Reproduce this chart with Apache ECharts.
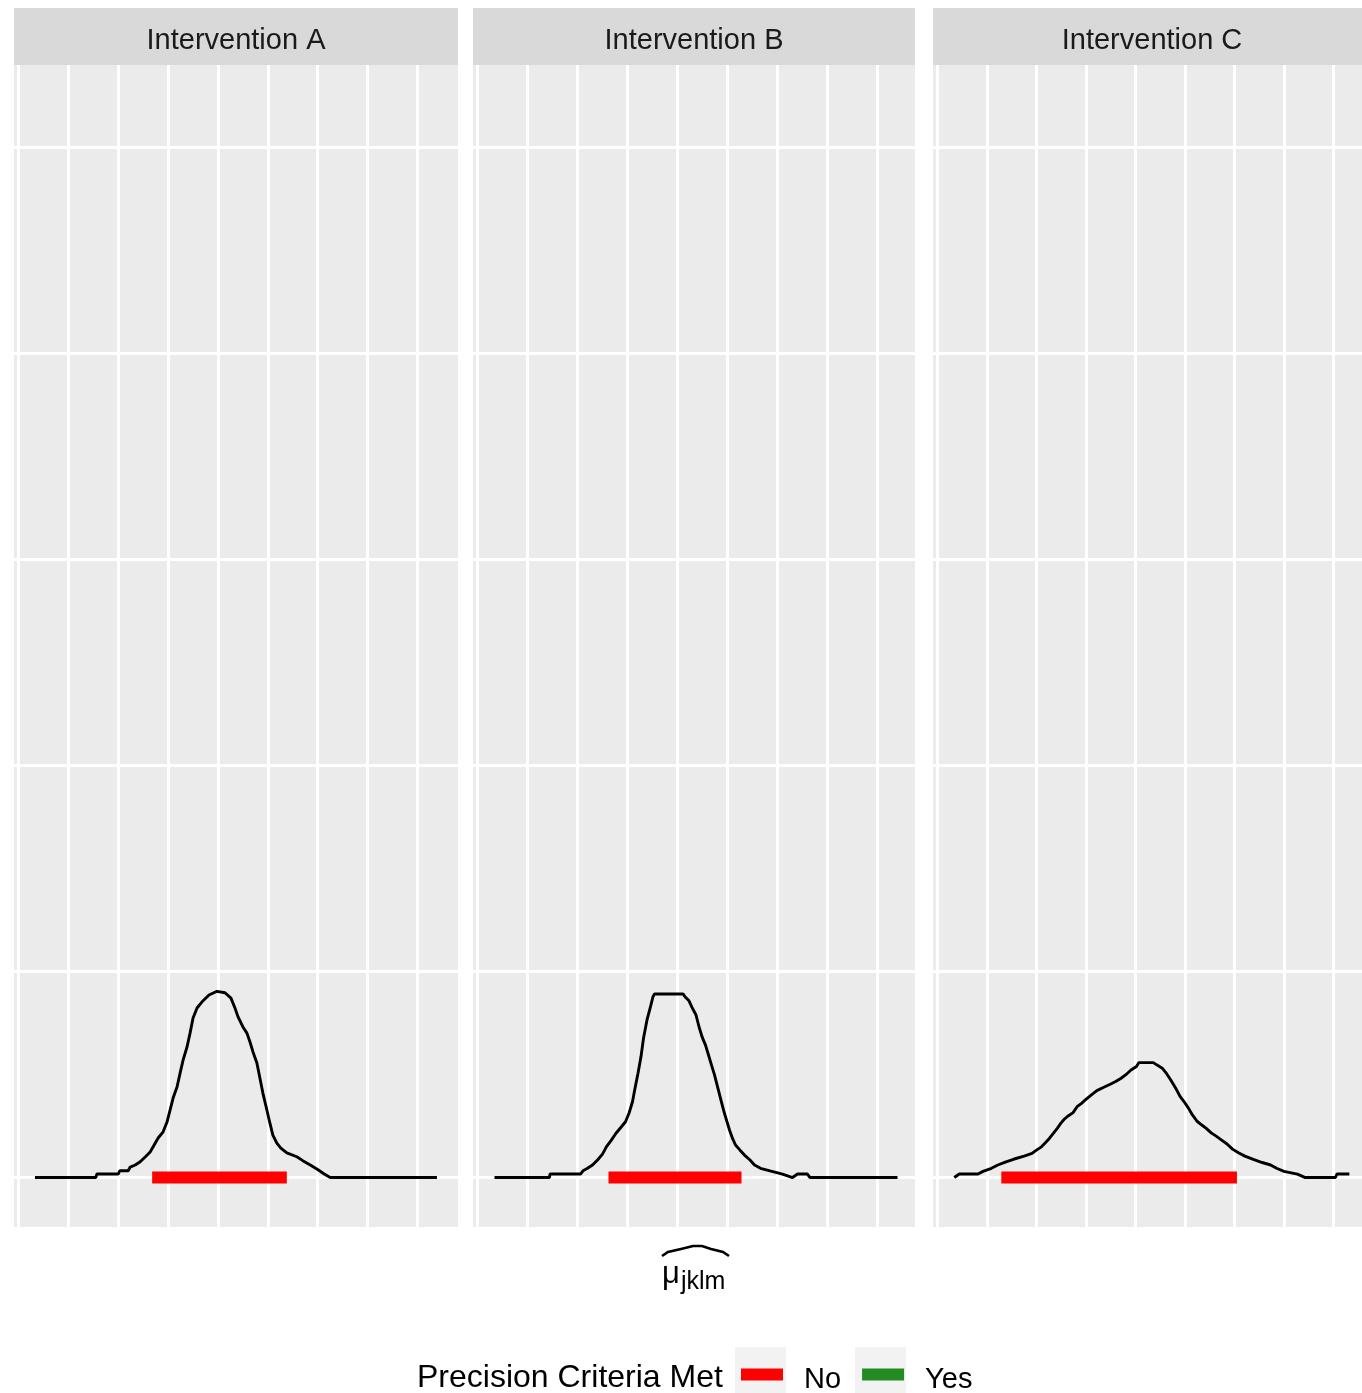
<!DOCTYPE html>
<html>
<head>
<meta charset="utf-8">
<script src="https://cdn.jsdelivr.net/npm/echarts@6/dist/echarts.min.js"></script>
<style>html,body{margin:0;padding:0;background:#fff;}#c{width:1362px;height:1393px;}</style>
</head>
<body>
<div id="c"></div>
<script>
const panels = ['Intervention A', 'Intervention B', 'Intervention C'];
const xGridValues = [-4, -3, -2, -1, 0, 1, 2, 3, 4];
const yGridValues = [0, 1, 2, 3, 4, 5];
const legendLabels = ['No', 'Yes'];
const legendTitle = 'Precision Criteria Met';

const densityA = [[-3.67,0],[-2.45,0],[-2.43,0.017],[-2.00,0.017],[-1.97,0.033],[-1.80,0.033],[-1.76,0.051],[-1.66,0.061],[-1.56,0.077],[-1.46,0.100],[-1.36,0.124],[-1.28,0.158],[-1.20,0.192],[-1.10,0.222],[-1.02,0.271],[-0.96,0.328],[-0.90,0.386],[-0.82,0.441],[-0.76,0.507],[-0.70,0.570],[-0.62,0.635],[-0.56,0.701],[-0.50,0.774],[-0.42,0.823],[-0.32,0.853],[-0.18,0.886],[-0.02,0.904],[0.14,0.897],[0.26,0.871],[0.34,0.823],[0.40,0.781],[0.50,0.731],[0.58,0.701],[0.64,0.659],[0.70,0.611],[0.78,0.556],[0.84,0.483],[0.90,0.410],[0.98,0.328],[1.04,0.265],[1.10,0.206],[1.18,0.167],[1.26,0.143],[1.38,0.120],[1.58,0.101],[1.70,0.082],[1.85,0.061],[1.99,0.040],[2.13,0.017],[2.25,0],[4.39,0]];
const densityB = [[-3.66,0],[-2.56,0],[-2.55,0.017],[-1.94,0.017],[-1.89,0.033],[-1.80,0.045],[-1.70,0.061],[-1.60,0.085],[-1.50,0.114],[-1.42,0.150],[-1.33,0.179],[-1.23,0.215],[-1.13,0.244],[-1.04,0.271],[-0.97,0.312],[-0.90,0.368],[-0.85,0.433],[-0.79,0.506],[-0.73,0.587],[-0.68,0.676],[-0.61,0.765],[-0.54,0.830],[-0.49,0.878],[-0.46,0.891],[0.11,0.891],[0.15,0.878],[0.23,0.858],[0.29,0.826],[0.37,0.789],[0.43,0.732],[0.49,0.684],[0.56,0.643],[0.62,0.595],[0.68,0.546],[0.74,0.498],[0.80,0.441],[0.86,0.384],[0.92,0.328],[0.98,0.279],[1.04,0.231],[1.10,0.190],[1.16,0.158],[1.25,0.133],[1.34,0.109],[1.45,0.085],[1.54,0.061],[1.66,0.045],[1.85,0.032],[2.10,0.017],[2.30,0],[2.40,0.017],[2.60,0.017],[2.65,0],[4.40,0]];
const densityC = [[-3.66,0],[-3.56,0.017],[-3.18,0.017],[-3.08,0.030],[-2.91,0.045],[-2.78,0.061],[-2.63,0.075],[-2.45,0.090],[-2.25,0.104],[-2.09,0.117],[-2.00,0.133],[-1.90,0.149],[-1.82,0.169],[-1.74,0.190],[-1.66,0.214],[-1.58,0.239],[-1.51,0.263],[-1.44,0.283],[-1.36,0.299],[-1.26,0.315],[-1.18,0.344],[-1.09,0.360],[-1.00,0.380],[-0.89,0.401],[-0.78,0.422],[-0.64,0.438],[-0.51,0.453],[-0.40,0.466],[-0.29,0.482],[-0.20,0.498],[-0.09,0.522],[0.02,0.539],[0.07,0.558],[0.36,0.558],[0.43,0.547],[0.54,0.531],[0.63,0.504],[0.71,0.475],[0.81,0.435],[0.90,0.394],[0.98,0.369],[1.07,0.337],[1.15,0.304],[1.25,0.272],[1.34,0.255],[1.43,0.239],[1.53,0.217],[1.63,0.201],[1.74,0.182],[1.85,0.163],[1.96,0.138],[2.08,0.120],[2.21,0.104],[2.38,0.088],[2.56,0.073],[2.73,0.061],[2.85,0.045],[3.00,0.030],[3.27,0.017],[3.43,0],[4.04,0],[4.07,0.017],[4.32,0.017]];
const intervalA = [-1.32, 1.38];
const intervalB = [-1.38, 1.28];
const intervalC = [-2.71, 2.05];

const densities = [densityA, densityB, densityC];
const intervals = [intervalA, intervalB, intervalC];

// layout (pixels)
const gridLayout = [
  { left: 14, width: 444, xmax: 4.812 },
  { left: 473, width: 442, xmax: 4.75 },
  { left: 933, width: 429, xmax: 4.576 }
];
const stripCenters = [236, 694, 1152];
const PANEL_TOP = 65, PANEL_BOTTOM = 166;

const grids = [], xAxes = [], yAxes = [], series = [], graphics = [];
gridLayout.forEach((g, i) => {
  grids.push({ left: g.left, width: g.width, top: PANEL_TOP, bottom: PANEL_BOTTOM,
    show: true, backgroundColor: '#EBEBEB', borderWidth: 0, containLabel: false });
  xAxes.push({ type: 'value', gridIndex: i, min: -4.09, max: g.xmax, show: false });
  yAxes.push({ type: 'value', gridIndex: i, min: -0.24, max: 5.40, show: false });
  series.push({
    name: 'grid' + i, type: 'line', xAxisIndex: i, yAxisIndex: i, data: [], silent: true, z: 1,
    markLine: {
      silent: true, symbol: 'none', z: 1, animation: false,
      label: { show: false },
      lineStyle: { color: '#FFFFFF', width: 3, type: 'solid' },
      emphasis: { disabled: true },
      data: xGridValues.map(v => ({ xAxis: v })).concat(yGridValues.map(v => ({ yAxis: v })))
    }
  });
  series.push({
    name: 'density' + i, type: 'line', xAxisIndex: i, yAxisIndex: i, data: densities[i],
    showSymbol: false, symbol: 'none', smooth: false, silent: true, z: 3,
    lineStyle: { color: '#000000', width: 2.9 }, animation: false
  });
  series.push({
    name: 'No', type: 'line', xAxisIndex: i, yAxisIndex: i,
    data: [[intervals[i][0], 0], [intervals[i][1], 0]],
    showSymbol: false, symbol: 'none', silent: true, z: 4, color: '#FF0000',
    lineStyle: { color: '#FF0000', width: 12, cap: 'butt' }, animation: false
  });
  graphics.push({ type: 'rect', shape: { x: g.left, y: 8, width: i === 2 ? 444 : g.width, height: 57 },
    style: { fill: '#D9D9D9' }, z: 0, silent: true });
  graphics.push({ type: 'text', x: stripCenters[i], y: 41, z: 1, silent: true,
    style: { text: panels[i], fill: '#1A1A1A', font: '29px "Liberation Sans", Arial, sans-serif',
      textAlign: 'center', textVerticalAlign: 'middle' } });
});
series.push({
  name: 'Yes', type: 'line', xAxisIndex: 0, yAxisIndex: 0, data: [], color: '#228B22',
  lineStyle: { color: '#228B22', width: 12 }, showSymbol: false
});

// axis title: widehat mu_jklm
graphics.push({ type: 'polyline', silent: true,
  shape: { points: [[662,1256],[668,1252],[681,1249],[693,1246],[702,1246],[711,1249],[723,1252],[729,1256]] },
  style: { stroke: '#000', lineWidth: 2.6, fill: null } });
graphics.push({ type: 'text', x: 662, y: 1274, silent: true,
  style: { text: 'μ', fill: '#000', font: '31px "Liberation Sans", Arial, sans-serif', textVerticalAlign: 'middle' } });
graphics.push({ type: 'text', x: 681, y: 1282, silent: true,
  style: { text: 'jklm', fill: '#000', font: '25px "Liberation Sans", Arial, sans-serif', textVerticalAlign: 'middle' } });

// legend title and key backgrounds
graphics.push({ type: 'text', x: 417, y: 1378, silent: true,
  style: { text: legendTitle, fill: '#000', font: '32px "Liberation Sans", Arial, sans-serif', textVerticalAlign: 'middle' } });
graphics.push({ type: 'rect', shape: { x: 735, y: 1347, width: 51, height: 50 }, style: { fill: '#F2F2F2' }, silent: true });
graphics.push({ type: 'rect', shape: { x: 855, y: 1347, width: 51, height: 50 }, style: { fill: '#F2F2F2' }, silent: true });

const chart = echarts.init(document.getElementById('c'), null, { renderer: 'canvas' });
chart.setOption({
  animation: false,
  backgroundColor: '#FFFFFF',
  grid: grids, xAxis: xAxes, yAxis: yAxes, series: series,
  legend: {
    data: legendLabels, left: 741, top: 1365, orient: 'horizontal', padding: 0,
    itemWidth: 42, itemHeight: 12, itemGap: 21, icon: 'rect', selectedMode: false,
    formatter: '{t|{name}}',
    textStyle: {
      fontSize: 29, color: '#000', fontFamily: '"Liberation Sans", Arial, sans-serif',
      rich: { t: { fontSize: 29, color: '#000', fontFamily: '"Liberation Sans", Arial, sans-serif', padding: [10, 0, 0, 16] } }
    }
  },
  graphic: graphics
});
</script>
</body>
</html>
